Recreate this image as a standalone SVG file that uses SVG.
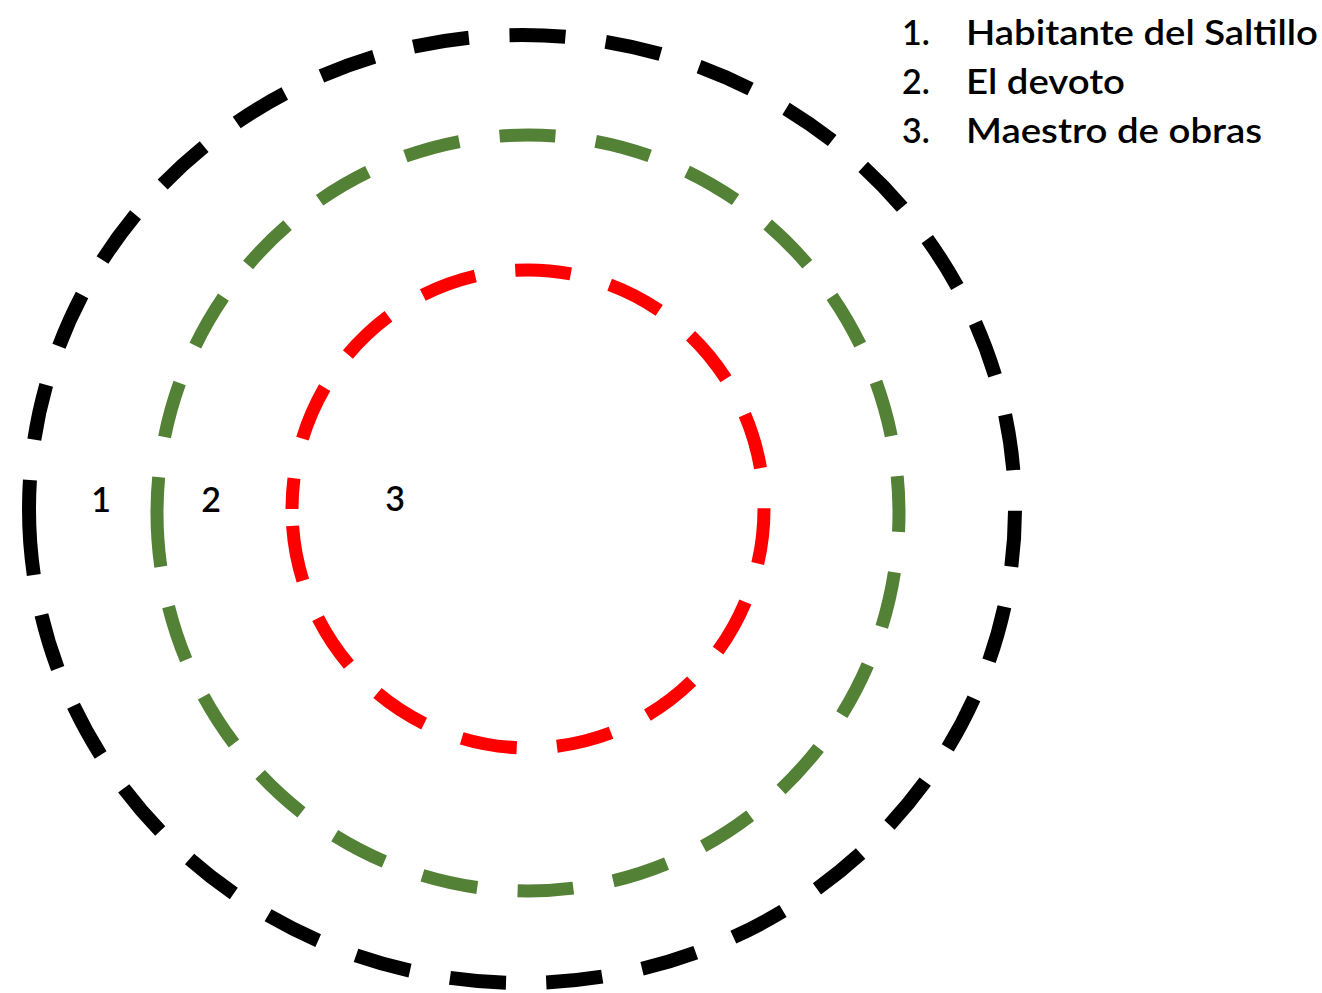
<svg xmlns="http://www.w3.org/2000/svg" width="1322" height="993" viewBox="0 0 1322 993">
  <style>
    .ring { fill: none; stroke-linecap: butt; }
    .lbl { font-family: Lato, "Liberation Sans", sans-serif; font-size: 34px; font-weight: 600; fill: #000; }
    /* each ring starts at its leftmost point, runs clockwise, and closes with one long dash */
    #ring-1 path { stroke: #000; stroke-width: 14;
      stroke-dasharray: 29 40.5 56 40.5 56 40.5 56 40.5 56 40.5 56 40.5 56 40.5 56 40.5 56 40.5 56 40.5 56 40.5 56 40.5 56 40.5 56 40.5 56 40.5 56 40.5 56 40.5 56 40.5 56 40.5 56 40.5 56 40.5 56 40.5 56 40.5 56 40.5 56 40.5 56 40.5 56 40.5 56 40.5 56 40.5 56 40.5 56 40.5 66 0; }
    #ring-2 path { stroke: #538135; stroke-width: 13;
      stroke-dasharray: 36 40.5 56 40.5 56 40.5 56 40.5 56 40.5 56 40.5 56 40.5 56 40.5 56 40.5 56 40.5 56 40.5 56 40.5 56 40.5 56 40.5 56 40.5 56 40.5 56 40.5 56 40.5 56 40.5 56 40.5 56 40.5 56 40.5 56 40.5 56 40.5 56 40.5 54 0; }
    #ring-3 path { stroke: #ff0000; stroke-width: 13;
      stroke-dasharray: 31 40.5 56 40.5 56 40.5 56 40.5 56 40.5 56 40.5 56 40.5 56 40.5 56 40.5 56 40.5 56 40.5 56 40.5 56 40.5 56 40.5 56 40.5 56 40.5 73 0; }
  </style>
  <rect width="1322" height="993" fill="#fff"/>
  <g id="rings">
    <g id="ring-1">
      <path class="ring" pathLength="3030.5" d="M29 509 A493 474 0 1 1 1015 509 A493 474 0 1 1 29 509"/>
    </g>
    <g id="ring-2">
      <path class="ring" pathLength="2350" d="M157 513 A371 378 0 1 1 899 513 A371 378 0 1 1 157 513"/>
    </g>
    <g id="ring-3">
      <path class="ring" pathLength="1495.5" d="M292 509 A236 239 0 1 1 764 509 A236 239 0 1 1 292 509"/>
    </g>
  </g>
  <g id="ring-numbers" class="lbl">
    <text x="101" y="512" text-anchor="middle">1</text>
    <text x="211" y="512" text-anchor="middle">2</text>
    <text x="395" y="511" text-anchor="middle">3</text>
  </g>
  <g id="legend" class="lbl">
    <text x="902" y="45">1.</text>
    <text x="966" y="45" textLength="352" lengthAdjust="spacingAndGlyphs">Habitante del Saltillo</text>
    <text x="902" y="94">2.</text>
    <text x="966" y="94" textLength="159" lengthAdjust="spacingAndGlyphs">El devoto</text>
    <text x="902" y="143">3.</text>
    <text x="966" y="143" textLength="296" lengthAdjust="spacingAndGlyphs">Maestro de obras</text>
  </g>
</svg>
